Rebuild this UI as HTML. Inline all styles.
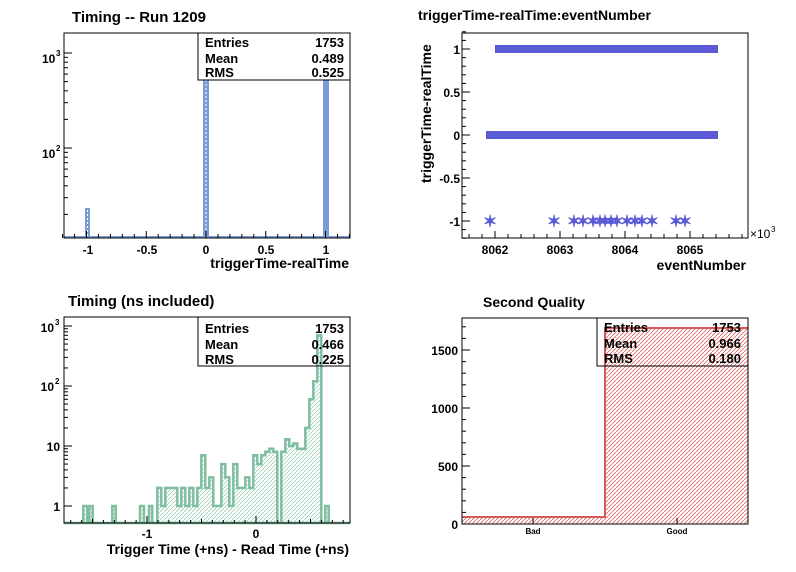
<!DOCTYPE html>
<html><head><meta charset="utf-8"><style>
body{margin:0;background:#fff;width:796px;height:572px;overflow:hidden}
svg{display:block;font-family:"Liberation Sans",Arial,sans-serif;font-weight:bold}
</style></head><body>
<svg id="s" width="796" height="572" xmlns="http://www.w3.org/2000/svg">
<defs>
<pattern id="hg" width="4" height="4" patternUnits="userSpaceOnUse"><path d="M0,4L4,0" stroke="#9fcfb7" stroke-width="0.8"/></pattern>
<pattern id="hr" width="4" height="4" patternUnits="userSpaceOnUse"><path d="M0,4L4,0" stroke="#d66" stroke-width="0.8"/></pattern>
</defs>
<rect width="796" height="572" fill="#fff"/>
<!-- TL -->
<text x="72" y="22" font-size="15">Timing -- Run 1209</text>
<rect x="85" y="208" width="5" height="30" fill="#7b9bd6"/>
<rect x="203" y="62" width="6" height="176" fill="#7b9bd6"/>
<rect x="323" y="57" width="6" height="181" fill="#7b9bd6"/>
<line x1="87.5" y1="210" x2="87.5" y2="238" stroke="#fff" stroke-dasharray="2,2"/>
<line x1="206" y1="64" x2="206" y2="238" stroke="#fff" stroke-dasharray="2,2"/>
<line x1="64" y1="237" x2="350" y2="237" stroke="#7b9bd6" stroke-width="2"/>
<rect x="64" y="33" width="286" height="205" fill="none" stroke="#000"/>
<rect x="198" y="33" width="152" height="47" fill="#fff" stroke="#000"/>
<g font-size="13"><text x="205" y="47">Entries</text><text x="205" y="63">Mean</text><text x="205" y="77">RMS</text>
<text x="344" y="47" text-anchor="end">1753</text><text x="344" y="63" text-anchor="end">0.489</text><text x="344" y="77" text-anchor="end">0.525</text></g>
<g font-size="12" text-anchor="middle"><text x="88" y="254">-1</text><text x="147" y="254">-0.5</text><text x="206" y="254">0</text><text x="266" y="254">0.5</text><text x="326" y="254">1</text></g>
<text x="349" y="268" font-size="14" text-anchor="end">triggerTime-realTime</text>
<text x="42" y="158" font-size="12">10</text><text x="56" y="151" font-size="8">2</text>
<text x="42" y="63" font-size="12">10</text><text x="56" y="56" font-size="8">3</text>
<g id="tl"></g>
<!-- TR -->
<text x="418" y="20" font-size="14">triggerTime-realTime:eventNumber</text>
<text transform="translate(431,183) rotate(-90)" font-size="14">triggerTime-realTime</text>
<rect x="495" y="45" width="223" height="8" fill="#5a5ad6"/>
<rect x="486" y="131" width="232" height="8" fill="#5a5ad6"/>
<g id="stars" fill="#5a5ad6"></g>
<rect x="462" y="33" width="286" height="205" fill="none" stroke="#000"/>
<g font-size="12" text-anchor="end"><text x="460" y="54">1</text><text x="460" y="97">0.5</text><text x="460" y="140">0</text><text x="460" y="183">-0.5</text><text x="460" y="226">-1</text></g>
<g font-size="12" text-anchor="middle"><text x="495" y="254">8062</text><text x="560" y="254">8063</text><text x="625" y="254">8064</text><text x="690" y="254">8065</text></g>
<text x="750" y="238" font-size="12" font-weight="normal">×10</text><text x="771" y="232" font-size="8" font-weight="normal">3</text>
<text x="746" y="270" font-size="14" text-anchor="end">eventNumber</text>
<g id="tr"></g>
<!-- BL -->
<text x="68" y="306" font-size="15">Timing (ns included)</text>
<path id="blp" fill="url(#hg)" stroke="#7fbf9f" stroke-width="2.5"/>
<rect x="64" y="317" width="286" height="206" fill="none" stroke="#000"/>
<rect x="198" y="317" width="152" height="49" fill="none" stroke="#000"/>
<g font-size="13"><text x="205" y="333">Entries</text><text x="205" y="349">Mean</text><text x="205" y="364">RMS</text>
<text x="344" y="333" text-anchor="end">1753</text><text x="344" y="349" text-anchor="end">0.466</text><text x="344" y="364" text-anchor="end">0.225</text></g>
<g font-size="12" text-anchor="end"><text x="60" y="511">1</text><text x="60" y="451">10</text><text x="54" y="391">10</text><text x="54" y="332">10</text></g>
<text x="55" y="384" font-size="8">2</text><text x="55" y="325" font-size="8">3</text>
<g font-size="12" text-anchor="middle"><text x="147" y="538">-1</text><text x="256" y="538">0</text></g>
<text x="349" y="554" font-size="14" text-anchor="end">Trigger Time (+ns) - Read Time (+ns)</text>
<g id="bl"></g>
<!-- BR -->
<text x="483" y="307" font-size="14">Second Quality</text>
<rect x="462" y="517" width="143" height="7" fill="url(#hr)"/>
<rect x="605" y="328" width="143" height="196" fill="url(#hr)"/>
<path d="M462,517H605V328H748" fill="none" stroke="#d65a5a" stroke-width="2"/>
<rect x="462" y="318" width="286" height="206" fill="none" stroke="#000"/>
<rect x="597" y="318" width="151" height="48" fill="none" stroke="#000"/>
<g font-size="13"><text x="604" y="332">Entries</text><text x="604" y="348">Mean</text><text x="604" y="363">RMS</text>
<text x="741" y="332" text-anchor="end">1753</text><text x="741" y="348" text-anchor="end">0.966</text><text x="741" y="363" text-anchor="end">0.180</text></g>
<g font-size="12" text-anchor="end"><text x="458" y="355">1500</text><text x="458" y="413">1000</text><text x="458" y="471">500</text><text x="458" y="529">0</text></g>
<g font-size="8" text-anchor="middle"><text x="533" y="534">Bad</text><text x="677" y="534">Good</text></g>
<line x1="533" y1="524" x2="533" y2="518" stroke="#000"/><line x1="677" y1="524" x2="677" y2="518" stroke="#000"/>
<g id="br"></g>
</svg>
<script>
var NS="http://www.w3.org/2000/svg";
function ln(g,x1,y1,x2,y2){var l=document.createElementNS(NS,"line");l.setAttribute("x1",x1);l.setAttribute("y1",y1);l.setAttribute("x2",x2);l.setAttribute("y2",y2);l.setAttribute("stroke","#000");document.getElementById(g).appendChild(l);}
for(var v=-1.2;v<=1.21;v+=0.1){var x=206+v*119.5;var big=Math.abs(Math.round(v*2)-v*2)<0.01;ln("tl",x,238,x,big?231:234);}
for(var d=1;d<=3;d++)for(var m=1;m<10;m++){var y=148-(d-2)*95-95*Math.log10(m);if(y>33&&y<238)ln("tl",64,y,m==1?72:68,y);}
for(var v=-1.2;v<=1.21;v+=0.1){var y=135-v*86;var big=Math.abs(Math.round(v*2)-v*2)<0.01;ln("tr",462,y,big?470:466,y);}
for(var v=8061.6;v<=8065.95;v+=0.2){var x=495+(v-8062)*65;var big=Math.abs(Math.round(v*2)-v*2)<0.01;ln("tr",x,238,x,big?231:234);}
var sx=[490,554,574,583,593,600,605,611,617,627,635,642,652,676,685],st=document.getElementById("stars");
sx.forEach(function(x){var t=document.createElementNS(NS,"text");t.setAttribute("x",x);t.setAttribute("y",227);t.setAttribute("font-size","17");t.setAttribute("text-anchor","middle");t.textContent="✶";st.appendChild(t);});
var bins={250:1,262:0,268:1,337:1,420:1,432:0,447:1,472:2,484:1,496:2,508:2,520:2,532:1,544:2,556:1,568:2,580:1,592:2,604:7,616:2,628:3,640:1,652:1,664:5,676:3,688:1,700:5,712:2,724:2,736:3,748:2,760:7,772:5,784:7,796:8,808:9,820:8,832:0,844:8,856:13,868:10,880:11,892:9,904:9,916:20,928:60,940:120,952:700,964:0,976:1};
var keys=Object.keys(bins).map(Number).sort(function(a,b){return a-b});
var d="M64,523";var prevEnd=-1;
keys.forEach(function(k,i){var c=bins[k];var x0=k/3;var nk=keys[i+1];var x1=(k+(nk&&nk-k<=12?nk-k:10))/3;
 var y=c>0?506-60*Math.log10(c):523;
 if(prevEnd>=0&&Math.abs(prevEnd-x0)>0.5)d+="V523";
 d+="H"+x0.toFixed(1)+"V"+y.toFixed(1)+"H"+x1.toFixed(1);prevEnd=x1;});
d+="V523H350V523H64Z";document.getElementById("blp").setAttribute("d",d);
for(var v=-1.7;v<=0.85;v+=0.1){var x=256+v*109;if(x<64||x>350)continue;var big=Math.abs(Math.round(v)-v)<0.01;var mid=Math.abs(Math.round(v*2)-v*2)<0.01;ln("bl",x,523,x,big?516:(mid?519:520));}
for(var d2=0;d2<=3;d2++)for(var m=1;m<10;m++){var y=506-d2*60-60*Math.log10(m);if(y>317&&y<523)ln("bl",64,y,m==1?72:68,y);}
for(var v=0;v<=1750;v+=100){var y=524-v*0.116;ln("br",462,y,v%500==0?470:466,y);}
</script>
</body></html>
